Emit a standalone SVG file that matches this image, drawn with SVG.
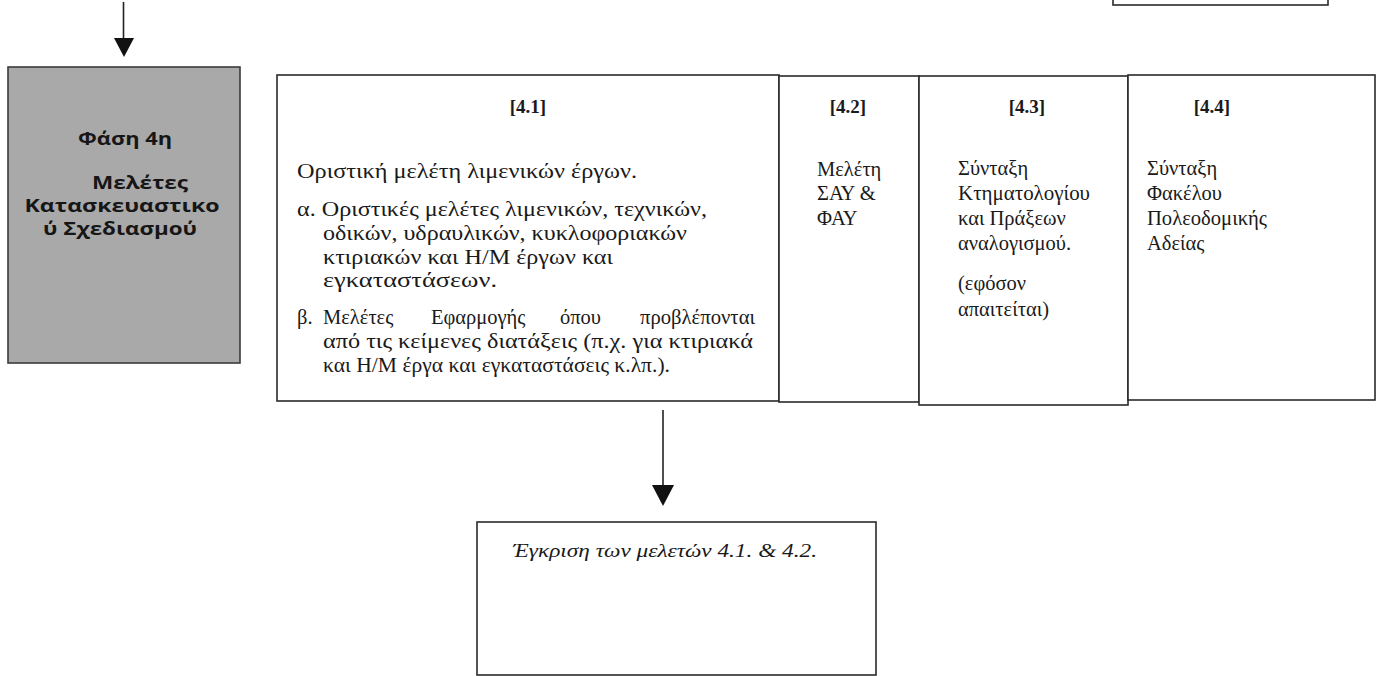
<svg xmlns="http://www.w3.org/2000/svg" width="1376" height="676" viewBox="0 0 1376 676">
<style>
.box{fill:#fff;stroke:#2a2a2a;stroke-width:1.6}
.grey{fill:#a9a9a9;stroke:#3a3a3a;stroke-width:1.6}
.ph{font-family:"Open Sans","Noto Sans","DejaVu Sans",sans-serif;font-weight:bold;font-size:17px;fill:#161616;text-anchor:middle}
.t{font-family:"Liberation Serif","DejaVu Serif",serif;font-size:20.5px;fill:#1a1a1a}
.h{font-family:"Liberation Serif","DejaVu Serif",serif;font-size:19px;font-weight:bold;fill:#1a1a1a;text-anchor:middle}
.it{font-family:"Liberation Serif","DejaVu Serif",serif;font-size:18px;font-style:italic;fill:#1a1a1a}
.conn{stroke:#222;stroke-width:1.6;fill:none}
.head{fill:#111}
</style>
<rect width="1376" height="676" fill="#fff"/>
<g id="connectors">
<line class="conn" x1="123.5" y1="2" x2="123.5" y2="40"/>
<polygon class="head" points="114,38 134,38 124,57"/>
<line class="conn" x1="663" y1="410" x2="663" y2="487"/>
<polygon class="head" points="652,485 674,485 663,506"/>
</g>
<g id="top-partial">
<rect class="box" x="1113" y="-20" width="215" height="25"/>
</g>
<g id="phase4">
<rect class="grey" x="8" y="67" width="232" height="296"/>
<text class="ph" x="125" y="145" textLength="94" lengthAdjust="spacingAndGlyphs">Φάση 4η</text>
<text class="ph" x="140" y="189" textLength="96" lengthAdjust="spacingAndGlyphs">Μελέτες</text>
<text class="ph" x="122" y="212" textLength="195" lengthAdjust="spacingAndGlyphs">Κατασκευαστικο</text>
<text class="ph" x="120" y="235" textLength="154" lengthAdjust="spacingAndGlyphs">ύ Σχεδιασμού</text>
</g>
<g id="n41">
<rect class="box" x="277" y="75" width="502" height="326"/>
<text class="h" x="528" y="113">[4.1]</text>
<text class="t" x="297" y="178" textLength="340" lengthAdjust="spacingAndGlyphs">Οριστική μελέτη λιμενικών έργων.</text>
<text class="t" x="297" y="216" textLength="410" lengthAdjust="spacingAndGlyphs">α. Οριστικές μελέτες λιμενικών, τεχνικών,</text>
<text class="t" x="323" y="240" textLength="364" lengthAdjust="spacingAndGlyphs">οδικών, υδραυλικών, κυκλοφοριακών</text>
<text class="t" x="323" y="264" textLength="290" lengthAdjust="spacingAndGlyphs">κτιριακών και Η/Μ έργων και</text>
<text class="t" x="323" y="287" textLength="174" lengthAdjust="spacingAndGlyphs">εγκαταστάσεων.</text>
<text class="t" y="324"><tspan x="297">β.</tspan><tspan x="323">Μελέτες</tspan><tspan x="431">Εφαρμογής</tspan><tspan x="560">όπου</tspan><tspan x="640" textLength="115" lengthAdjust="spacingAndGlyphs">προβλέπονται</tspan></text>
<text class="t" x="323" y="348" textLength="430" lengthAdjust="spacingAndGlyphs">από τις κείμενες διατάξεις (π.χ. για κτιριακά</text>
<text class="t" x="323" y="372" textLength="347" lengthAdjust="spacingAndGlyphs">και Η/Μ έργα και εγκαταστάσεις κ.λπ.).</text>
</g>
<g id="n42">
<rect class="box" x="779" y="76" width="140" height="326"/>
<text class="h" x="848" y="113">[4.2]</text>
<text class="t" x="817" y="176">Μελέτη</text>
<text class="t" x="817" y="200">ΣΑΥ &amp;</text>
<text class="t" x="817" y="225">ΦΑΥ</text>
</g>
<g id="n43">
<rect class="box" x="919" y="76" width="209" height="329"/>
<text class="h" x="1027" y="113">[4.3]</text>
<text class="t" x="958" y="175">Σύνταξη</text>
<text class="t" x="958" y="200" textLength="132" lengthAdjust="spacingAndGlyphs">Κτηματολογίου</text>
<text class="t" x="958" y="225">και Πράξεων</text>
<text class="t" x="958" y="250">αναλογισμού.</text>
<text class="t" x="958" y="290">(εφόσον</text>
<text class="t" x="958" y="316">απαιτείται)</text>
</g>
<g id="n44">
<rect class="box" x="1128" y="75" width="247" height="325"/>
<text class="h" x="1212" y="113">[4.4]</text>
<text class="t" x="1147" y="175">Σύνταξη</text>
<text class="t" x="1147" y="200">Φακέλου</text>
<text class="t" x="1147" y="225" textLength="120" lengthAdjust="spacingAndGlyphs">Πολεοδομικής</text>
<text class="t" x="1147" y="250">Αδείας</text>
</g>
<g id="approval">
<rect class="box" x="477" y="522" width="399" height="153"/>
<text class="it" x="513" y="557" textLength="304" lengthAdjust="spacingAndGlyphs">Έγκριση των μελετών 4.1. &amp; 4.2.</text>
</g>
</svg>
